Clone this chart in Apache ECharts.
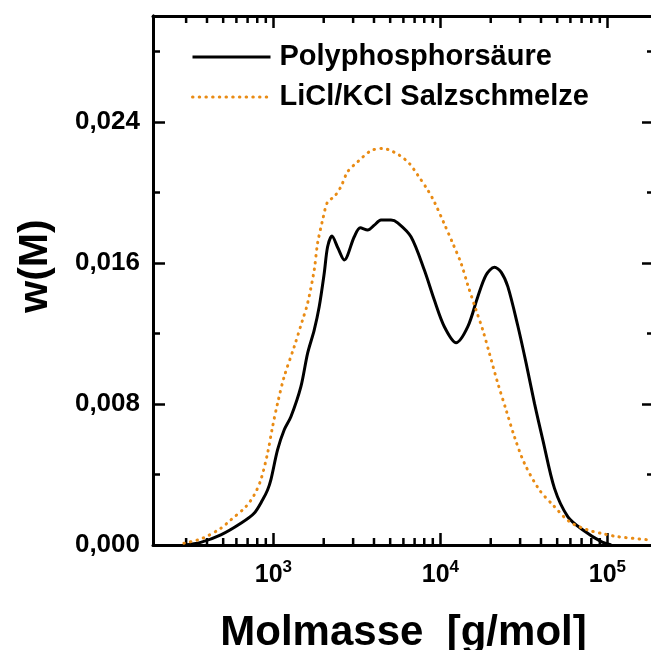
<!DOCTYPE html>
<html><head><meta charset="utf-8">
<script src="https://cdn.jsdelivr.net/npm/echarts@6/dist/echarts.min.js"></script>
<style>html,body{margin:0;padding:0;background:#fff}#c{width:651px;height:650px}</style>
</head><body><div id="c"></div>
<script>
const seriesNames = ['Polyphosphorsäure', 'LiCl/KCl Salzschmelze'];
const massPoly = [290, 367, 484, 638, 766, 860, 922, 965, 1058, 1159, 1272, 1460, 1601, 1754, 1879, 2014, 2110, 2239, 2433, 2654, 3047, 3310, 3666, 4016, 4404, 5056, 5546, 6663, 8008, 9192, 10554, 12406, 14580, 16736, 18764, 21048, 23084, 25325, 29071, 32606, 36564, 41050, 48173, 57968, 71320, 91800, 105400];
const wPoly = [0, 0.00015, 0.00057, 0.00123, 0.0018, 0.00255, 0.00312, 0.00369, 0.00539, 0.00652, 0.00727, 0.00898, 0.01087, 0.01219, 0.01351, 0.01541, 0.01691, 0.01752, 0.01684, 0.01616, 0.01748, 0.01799, 0.01786, 0.01814, 0.01843, 0.01843, 0.01827, 0.01748, 0.01559, 0.01389, 0.01238, 0.01147, 0.01238, 0.01408, 0.01531, 0.01575, 0.01548, 0.01465, 0.01242, 0.0103, 0.00803, 0.00595, 0.00321, 0.0016, 0.00085, 0.00019, 0];
const massSalt = [291, 376, 484, 555, 683, 766, 840, 922, 988, 1058, 1159, 1331, 1494, 1601, 1754, 1838, 1970, 2110, 2311, 2536, 2781, 3193, 3836, 4509, 4938, 5669, 6509, 7309, 8392, 9192, 10554, 11851, 13293, 14580, 16347, 17930, 19640, 22055, 24740, 27730, 31840, 39160, 47120, 59270, 76400, 91800, 115600, 183100];
const wSalt = [0.0001, 0.00038, 0.00095, 0.00142, 0.00217, 0.00283, 0.00369, 0.0052, 0.00671, 0.00803, 0.00954, 0.01124, 0.01276, 0.0137, 0.01559, 0.01711, 0.01843, 0.01946, 0.01975, 0.02032, 0.02117, 0.02173, 0.02236, 0.02249, 0.0224, 0.02211, 0.02164, 0.02098, 0.02013, 0.01946, 0.0182, 0.01711, 0.01597, 0.01474, 0.01332, 0.01219, 0.01087, 0.00917, 0.00765, 0.00614, 0.00463, 0.00312, 0.00227, 0.00132, 0.00085, 0.00066, 0.00047, 0.00028];
const minorMassTicks = [300, 400, 500, 600, 700, 800, 900, 2000, 3000, 4000, 5000, 6000, 7000, 8000, 9000, 20000, 30000, 40000, 50000, 60000, 70000, 80000, 90000];
const xMin = 190, xMax = 190000, yMin = 0, yMax = 0.03, yMajor = 0.008, yMinor = 0.004;
const xTitle = 'Molmasse  [g/mol]';
const yTitle = 'w(M)';

const FONT = "'Liberation Sans', Arial, sans-serif";
const ORANGE = '#e98b14';
const zip = (a, b) => a.map((v, i) => [v, b[i]]);

const chart = echarts.init(document.getElementById('c'), null, {renderer: 'canvas'});

const logAxisBase = {
  type: 'log', logBase: 10, min: xMin, max: xMax,
  axisLine: {show: true, onZero: false, lineStyle: {color: '#000', width: 3}},
  axisTick: {show: true, inside: true, length: 12, lineStyle: {color: '#000', width: 2.5}},
  splitLine: {show: false}, minorTick: {show: false}
};
const yBase = (pos, interval, len, labels) => ({
  type: 'value', position: pos, min: yMin, max: yMax, interval: interval,
  axisLine: {show: true, onZero: false, lineStyle: {color: '#000', width: 3}},
  axisTick: {show: true, inside: true, length: len, lineStyle: {color: '#000', width: 2.5}},
  splitLine: {show: false},
  axisLabel: labels ? {
    show: true, showMaxLabel: false, margin: 13,
    fontFamily: FONT, fontWeight: 'bold', fontSize: 26, color: '#000',
    formatter: v => v.toFixed(3).replace('.', ',')
  } : {show: false}
});

chart.setOption({
  animation: false,
  backgroundColor: '#fff',
  grid: {left: 153, top: 16, width: 501, height: 529, containLabel: false, outerBoundsMode: 'none'},
  legend: {
    orient: 'vertical', left: 191, top: 42, padding: 0,
    itemWidth: 78, itemHeight: 14, itemGap: 10,
    data: seriesNames,
    itemStyle: {opacity: 0},
    lineStyle: {width: 3},
    textStyle: {fontFamily: FONT, fontWeight: 'bold', fontSize: 29, color: '#000', lineHeight: 30, padding: [0, 0, 0, 4]}
  },
  xAxis: [
    Object.assign({}, logAxisBase, {
      position: 'bottom',
      name: xTitle, nameLocation: 'middle', nameGap: 67,
      nameTextStyle: {fontFamily: FONT, fontWeight: 'bold', fontSize: 42, color: '#000'},
      axisLabel: {
        show: true, showMinLabel: false, showMaxLabel: false, margin: 14,
        formatter: v => '{b|10}{s|' + Math.round(Math.log10(v)) + '}',
        rich: {
          b: {fontFamily: FONT, fontWeight: 'bold', fontSize: 25, color: '#000', lineHeight: 32},
          s: {fontFamily: FONT, fontWeight: 'bold', fontSize: 17, color: '#000', lineHeight: 17, verticalAlign: 'top'}
        }
      }
    }),
    Object.assign({}, logAxisBase, {position: 'top', axisLabel: {show: false}})
  ],
  yAxis: [
    yBase('left', yMajor, 12, true),
    yBase('left', yMinor, 7, false),
    yBase('right', yMajor, 12, false),
    yBase('right', yMinor, 7, false)
  ],
  graphic: [{
    type: 'text', x: 36, y: 266, rotation: Math.PI / 2,
    style: {text: yTitle, font: "bold 41px 'Liberation Sans', Arial, sans-serif", fill: '#000', align: 'center', verticalAlign: 'middle'}
  }],
  series: [
    {
      name: seriesNames[0], type: 'line', data: zip(massPoly, wPoly),
      showSymbol: false, symbol: 'none', smooth: 0.3,
      lineStyle: {color: '#000', width: 3}, itemStyle: {color: '#000'}
    },
    {
      name: seriesNames[1], type: 'line', data: zip(massSalt, wSalt),
      showSymbol: false, symbol: 'none', smooth: 0.3,
      lineStyle: {color: ORANGE, width: 3, type: [0.5, 6.2], cap: 'round'}, itemStyle: {color: ORANGE}
    },
    {
      name: 'minorTicks', type: 'custom', silent: true,
      data: minorMassTicks.map(m => [m, 0]),
      renderItem: (params, api) => {
        const pb = api.coord([api.value(0), yMin]);
        const pt = api.coord([api.value(0), yMax]);
        const st = {stroke: '#000', lineWidth: 2.5};
        return {type: 'group', children: [
          {type: 'line', shape: {x1: pb[0], y1: pb[1], x2: pb[0], y2: pb[1] - 7}, style: st},
          {type: 'line', shape: {x1: pt[0], y1: pt[1], x2: pt[0], y2: pt[1] + 7}, style: st}
        ]};
      }
    }
  ]
});
</script></body></html>
